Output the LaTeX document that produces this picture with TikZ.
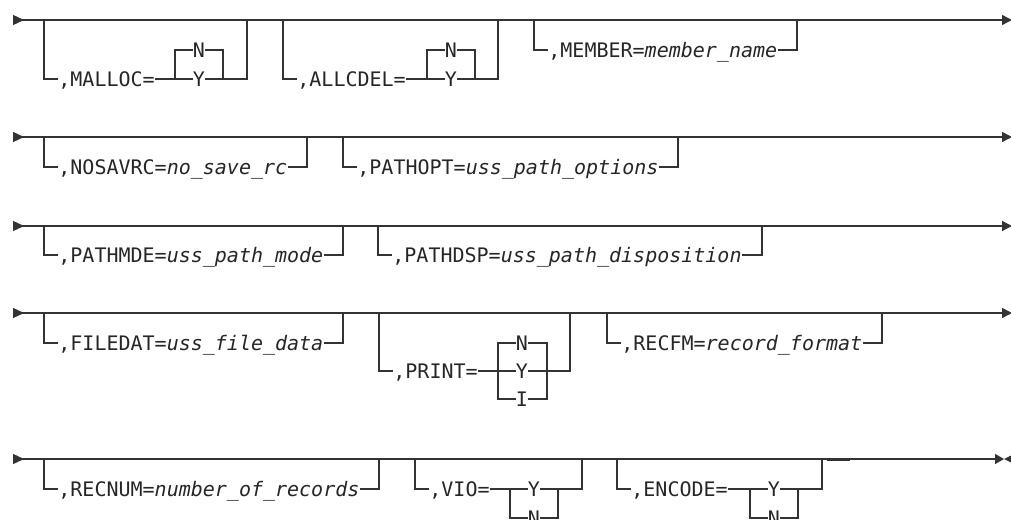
\documentclass[tikz,border=0pt]{standalone}
\usepackage{fontspec}
\setmonofont{DejaVu Sans Mono}
\usetikzlibrary{arrows.meta,positioning}
\tikzset{
  rail/.style={line width=0.65pt, draw=black!80},
  mainline/.style={rail, {Triangle[length=5.5pt,width=5pt,reversed]}-{Triangle[length=5pt,width=5pt]}},
  lastline/.style={rail, {Triangle[length=5.5pt,width=5pt,reversed]}-{Triangle[length=4.5pt,width=5pt]}},
  kw/.style={font=\ttfamily\fontsize{10}{12}\selectfont, text=black!85, inner sep=0pt, anchor=west, text height=7.3pt, text depth=0pt},
  ch/.style={kw, anchor=center},
}

\begin{document}
\begin{tikzpicture}[x=0.5pt,y=-0.5pt]
\useasboundingbox (0,0) rectangle (1011,519);
% riga 1
\draw[mainline] (13,20) -- (1012,20);
\node[kw] (malloc) at (58,79) {,MALLOC=};
\node[ch] (mallocN) at (199,50) {N};
\node[ch] (mallocY) at (199,79) {Y};
\draw[rail] (44,20) |- (malloc.west);
\draw[rail] (malloc.east) -- (mallocY.west);
\draw[rail] (mallocY.east) -- (247,79) -- (247,20);
\draw[rail] (175,79) |- (mallocN.west);
\draw[rail] (mallocN.east) -| (223,79);
\node[kw] (allcdel) at (297,79) {,ALLCDEL=};
\node[ch] (allcdelN) at (451,50) {N};
\node[ch] (allcdelY) at (451,79) {Y};
\draw[rail] (283,20) |- (allcdel.west);
\draw[rail] (allcdel.east) -- (allcdelY.west);
\draw[rail] (allcdelY.east) -- (498,79) -- (498,20);
\draw[rail] (427,79) |- (allcdelN.west);
\draw[rail] (allcdelN.east) -| (475,79);
\node[kw] (member) at (548,50) {,MEMBER=\textit{member\_name}};
\draw[rail] (534,20) |- (member.west);
\draw[rail] (member.east) -| (797,20);
% riga 2
\draw[mainline] (13,137) -- (1012,137);
\node[kw] (nosavrc) at (58,167) {,NOSAVRC=\textit{no\_save\_rc}};
\draw[rail] (44,137) |- (nosavrc.west);
\draw[rail] (nosavrc.east) -| (307,137);
\node[kw] (pathopt) at (357,167) {,PATHOPT=\textit{uss\_path\_options}};
\draw[rail] (343,137) |- (pathopt.west);
\draw[rail] (pathopt.east) -| (678,137);
% riga 3
\draw[mainline] (13,226) -- (1012,226);
\node[kw] (pathmde) at (58,255) {,PATHMDE=\textit{uss\_path\_mode}};
\draw[rail] (44,226) |- (pathmde.west);
\draw[rail] (pathmde.east) -| (343,226);
\node[kw] (pathdsp) at (392,255) {,PATHDSP=\textit{uss\_path\_disposition}};
\draw[rail] (378,226) |- (pathdsp.west);
\draw[rail] (pathdsp.east) -| (762,226);
% riga 4
\draw[mainline] (13,313) -- (1012,313);
\node[kw] (filedat) at (58,343) {,FILEDAT=\textit{uss\_file\_data}};
\draw[rail] (44,313) |- (filedat.west);
\draw[rail] (filedat.east) -| (343,313);
\node[kw] (print) at (393,371) {,PRINT=};
\node[ch] (printN) at (522,343) {N};
\node[ch] (printY) at (522,371) {Y};
\node[ch] (printI) at (522,399) {I};
\draw[rail] (379,313) |- (print.west);
\draw[rail] (print.east) -- (printY.west);
\draw[rail] (printY.east) -- (570,371) -- (570,313);
\draw[rail] (printN.west) -| (498,399) -- (printI.west);
\draw[rail] (printN.east) -| (547,399) -- (printI.east);
\node[kw] (recfm) at (621,343) {,RECFM=\textit{record\_format}};
\draw[rail] (607,313) |- (recfm.west);
\draw[rail] (recfm.east) -| (882,313);
% riga 5
\draw[lastline] (13,459) -- (1004,459);
\fill[black!80] (1004,459) -- (1014,454) -- (1014,464) -- cycle;
\node[kw] (recnum) at (58,489) {,RECNUM=\textit{number\_of\_records}};
\draw[rail] (44,459) |- (recnum.west);
\draw[rail] (recnum.east) -| (379,459);
\node[kw] (vio) at (429,489) {,VIO=};
\node[ch] (vioY) at (534,489) {Y};
\node[ch] (vioN) at (534,518) {N};
\draw[rail] (415,459) |- (vio.west);
\draw[rail] (vio.east) -- (vioY.west);
\draw[rail] (vioY.east) -- (582,489) -- (582,459);
\draw[rail] (510,489) |- (vioN.west);
\draw[rail] (vioN.east) -| (558,489);
\node[kw] (encode) at (631,489) {,ENCODE=};
\node[ch] (encodeY) at (774,489) {Y};
\node[ch] (encodeN) at (774,518) {N};
\draw[rail] (617,459) |- (encode.west);
\draw[rail] (encode.east) -- (encodeY.west);
\draw[rail] (encodeY.east) -- (822,489) -- (822,459);
\draw[rail] (750,489) |- (encodeN.west);
\draw[rail] (encodeN.east) -| (798,489);
\draw[black!80, line width=0.9pt] (827,460.5) -- (850,460.5);
\end{tikzpicture}
\end{document}
